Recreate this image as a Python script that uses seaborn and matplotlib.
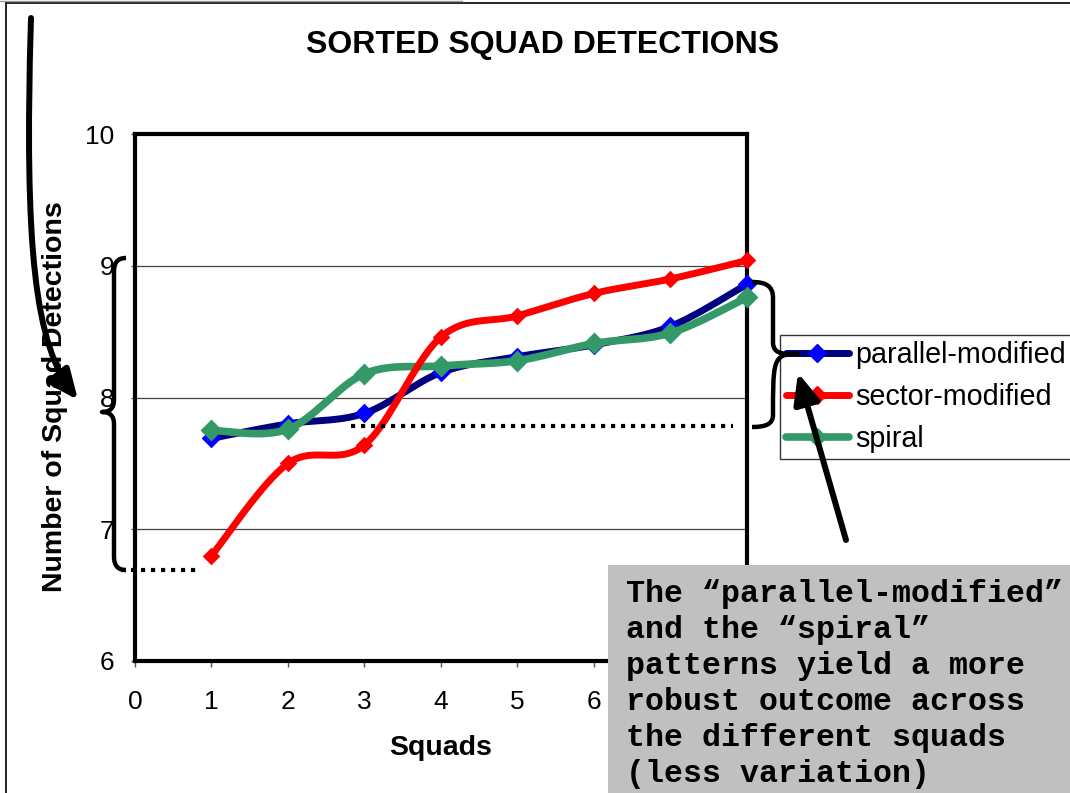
import numpy as np
import pandas as pd
import matplotlib
matplotlib.use("Agg")
import matplotlib.pyplot as plt
import seaborn as sns
from matplotlib.path import Path
from matplotlib.patches import PathPatch, FancyArrowPatch, Rectangle
from matplotlib.lines import Line2D

# ---- data -------------------------------------------------------------
squads = [1, 2, 3, 4, 5, 6, 7, 8]
parallel_modified = [7.69, 7.80, 7.88, 8.19, 8.31, 8.40, 8.54, 8.86]
sector_modified = [6.80, 7.50, 7.64, 8.46, 8.62, 8.79, 8.90, 9.04]
spiral = [7.75, 7.76, 8.18, 8.24, 8.28, 8.41, 8.49, 8.76]
series_names = ["parallel-modified", "sector-modified", "spiral"]
x_ticks = [0, 1, 2, 3, 4, 5, 6, 7, 8]
# labels for 7 and 8 sit under the note box, so they are left blank
x_tick_labels = ["0", "1", "2", "3", "4", "5", "6", "", ""]
y_ticks = [6, 7, 8, 9, 10]
title = "SORTED SQUAD DETECTIONS"
x_label = "Squads"
y_label = "Number of Squad Detections"
note_lines = [
    "The \u201cparallel-modified\u201d",
    "and the \u201cspiral\u201d",
    "patterns yield a more",
    "robust outcome across",
    "the different squads",
    "(less variation)",
]
# reference levels marked with dotted lines
low_level = 6.69
mid_level = 7.78

# ---- styling ------------------------------------------------------------
sns.set_style("white")
plt.rcParams["font.family"] = ["Liberation Sans", "DejaVu Sans"]
plt.rcParams["text.color"] = "black"
plt.rcParams["xtick.labelcolor"] = "black"
plt.rcParams["ytick.labelcolor"] = "black"

line_colors = {"parallel-modified": "#000080", "sector-modified": "#FF0000", "spiral": "#339966"}
marker_colors = {"parallel-modified": "#0000FF", "sector-modified": "#FF0000", "spiral": "#339966"}
line_widths = {"parallel-modified": 5.0, "sector-modified": 5.0, "spiral": 5.5}
marker_sizes = {"parallel-modified": 100, "sector-modified": 80, "spiral": 125}
z_orders = {"parallel-modified": 3, "spiral": 4, "sector-modified": 5}

W, H = 1070, 793
fig = plt.figure(figsize=(W / 100, H / 100), dpi=100)
fig.patch.set_facecolor("white")


def smooth_curve(xs, ys, n=40):
    """Bezier smoothing through the points (Catmull-Rom style control points)."""
    pts = np.column_stack([xs, ys]).astype(float)
    ext = np.vstack([pts[0], pts, pts[-1]])
    segs = []
    for i in range(len(pts) - 1):
        p0, p1, p2, p3 = ext[i], ext[i + 1], ext[i + 2], ext[i + 3]
        c1 = p1 + (p2 - p0) / 6.0
        c2 = p2 - (p3 - p1) / 6.0
        t = np.linspace(0, 1, n)[:, None]
        seg = (1 - t) ** 3 * p1 + 3 * (1 - t) ** 2 * t * c1 + 3 * (1 - t) * t ** 2 * c2 + t ** 3 * p2
        segs.append(seg if i == 0 else seg[1:])
    return np.vstack(segs)


points = pd.DataFrame({
    "squad": squads * 3,
    "detections": parallel_modified + sector_modified + spiral,
    "pattern": np.repeat(series_names, len(squads)),
})

curves = []
for name in series_names:
    sub = points[points["pattern"] == name]
    c = smooth_curve(sub["squad"].values, sub["detections"].values)
    curves.append(pd.DataFrame({"squad": c[:, 0], "detections": c[:, 1], "pattern": name}))
curves = pd.concat(curves, ignore_index=True)

# ---- main axes ----------------------------------------------------------
ax = fig.add_axes([135 / W, 1 - 661 / H, 612 / W, 527 / H])
ax.set_facecolor("white")

for name in series_names:
    sns.lineplot(data=curves[curves["pattern"] == name], x="squad", y="detections",
                 color=line_colors[name], lw=line_widths[name], sort=False,
                 estimator=None, ax=ax, zorder=z_orders[name], legend=False,
                 solid_capstyle="round")
    sns.scatterplot(data=points[points["pattern"] == name], x="squad", y="detections",
                    color=marker_colors[name], marker="D", s=marker_sizes[name],
                    linewidth=0, ax=ax, zorder=z_orders[name] + 0.5, legend=False,
                    clip_on=False)

ax.set_xlim(0, 8)
ax.set_ylim(6, 10)
ax.set_xticks(x_ticks)
ax.set_yticks(y_ticks)
ax.set_xticklabels(x_tick_labels, fontsize=19)
ax.set_yticklabels([str(v) for v in y_ticks], fontsize=19)
ax.tick_params(axis="x", direction="out", length=4, width=1, color="#555555", pad=17, bottom=True)
ax.tick_params(axis="y", direction="out", length=3, width=1, color="#555555", pad=12, left=True)
ax.set_xlabel("")
ax.set_ylabel("")
for y in y_ticks[1:-1]:
    ax.axhline(y, color="#404040", lw=0.9, zorder=1)
for sp in ax.spines.values():
    sp.set_visible(True)
    sp.set_color("black")
    sp.set_linewidth(3)

# dotted reference lines
ax.plot([-0.18, 0.80], [low_level, low_level], color="black", lw=3,
        linestyle=(0, (1, 1.4)), dash_capstyle="butt", clip_on=False, zorder=6)
ax.plot([2.82, 7.82], [mid_level, mid_level], color="black", lw=3,
        linestyle=(0, (1, 1.4)), dash_capstyle="butt", clip_on=False, zorder=6)

# ---- figure texts -------------------------------------------------------
fig.text(543 / W, 1 - 45 / H, title, fontsize=23, fontweight="bold", ha="center", va="center")
fig.text(441 / W, 1 - 748 / H, x_label, fontsize=20.5, fontweight="bold", ha="center", va="center")
fig.text(55 / W, 1 - 397 / H, y_label, fontsize=20.5, fontweight="bold", ha="center",
         va="center", rotation=90)

# ---- legend -------------------------------------------------------------
handles = [Line2D([0], [0], color=line_colors[n], lw=line_widths[n], marker="D",
                  markersize=9, markerfacecolor=marker_colors[n],
                  markeredgecolor=marker_colors[n]) for n in series_names]
leg = fig.legend(handles, series_names, loc="upper left",
                 bbox_to_anchor=(780 / W, 1 - 335 / H), bbox_transform=fig.transFigure,
                 borderaxespad=0, borderpad=0.2, handlelength=2.2, handletextpad=0.2,
                 labelspacing=0.5, fontsize=20.7, frameon=True, fancybox=False)
leg.get_frame().set_edgecolor("#333333")
leg.get_frame().set_linewidth(1)
leg.get_frame().set_facecolor("white")
leg.get_frame().set_alpha(1)

# ---- overlay in pixel coordinates for braces, arrows and note ----------
ov = fig.add_axes([0, 0, 1, 1], zorder=10)
ov.set_xlim(0, W)
ov.set_ylim(H, 0)
ov.axis("off")
ov.patch.set_alpha(0)

# outer frame
ov.plot([6, W], [3, 3], color="black", lw=1.2)
ov.plot([6, 6], [3, H], color="black", lw=1.2)
ov.plot([0, 462], [0.6, 0.6], color="#999999", lw=1)

M, L, C = Path.MOVETO, Path.LINETO, Path.CURVE4

# left brace (tip pointing left)
lb = [(126, 258), (118, 258), (114, 262), (114, 272),
      (114, 400),
      (114, 408), (110, 412), (102, 412),
      (110, 412), (114, 416), (114, 424),
      (114, 556),
      (114, 566), (118, 570), (126, 570)]
lb_codes = [M, C, C, C, L, C, C, C, C, C, C, L, C, C, C]
ov.add_patch(PathPatch(Path(lb, lb_codes), fill=False, lw=3.2, edgecolor="black",
                       capstyle="butt", joinstyle="round"))

# right brace (tip pointing right)
rb = [(752, 282), (766, 282), (773, 286), (773, 298),
      (773, 342),
      (773, 350), (777, 354), (790, 354),
      (800, 354),
      (790, 354), (773, 356), (773, 366),
      (773, 415),
      (773, 424), (766, 427), (752, 427)]
rb_codes = [M, C, C, C, L, C, C, C, L, M, C, C, L, C, C, C]
ov.add_patch(PathPatch(Path(rb, rb_codes), fill=False, lw=3.2, edgecolor="black",
                       capstyle="butt", joinstyle="round"))

# curved arrow on the left
arrow_path = Path([(31, 18), (24, 250), (35, 345), (78, 400)], [M, C, C, C])
ov.add_patch(FancyArrowPatch(path=arrow_path,
                             arrowstyle="-|>,head_length=0.5,head_width=0.22",
                             mutation_scale=36, lw=4.3, color="black",
                             shrinkA=0, shrinkB=0))

# straight arrow on the right
ov.add_patch(FancyArrowPatch((846, 540), (798, 373),
                             arrowstyle="-|>,head_length=0.5,head_width=0.22",
                             mutation_scale=36, lw=4.3, color="black",
                             shrinkA=0, shrinkB=0))

# note box
ov.add_patch(Rectangle((608, 565), W - 608 + 10, H - 565 + 10, facecolor="#C0C0C0",
                       edgecolor="none"))
ov.text(626, 579, "\n".join(note_lines), fontsize=22.8, fontweight="bold",
        family=["Liberation Mono", "DejaVu Sans Mono"], ha="left", va="top",
        linespacing=1.265, color="black")

fig.savefig("out.png", dpi=100, facecolor="white")
